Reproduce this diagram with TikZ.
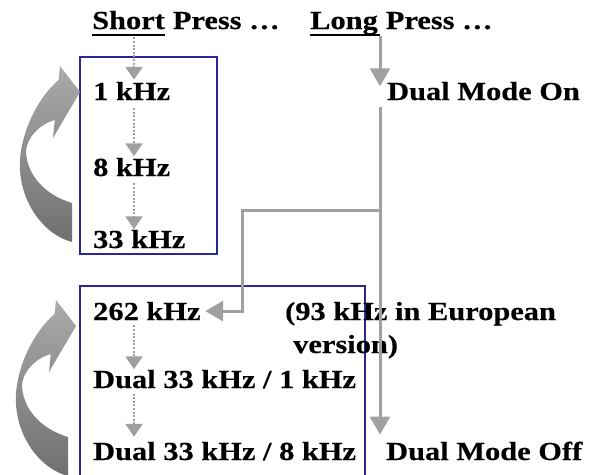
\documentclass[tikz,border=0pt]{standalone}
\usepackage{fontspec}
\setmainfont{Liberation Serif}[FakeStretch=1.17, BoldFeatures={FakeBold=0.4}]
\usetikzlibrary{arrows.meta}
\definecolor{boxblue}{RGB}{40,40,150}
\definecolor{lgray}{RGB}{160,160,160}
\definecolor{agrayA}{RGB}{170,170,170}
\definecolor{agrayM}{RGB}{140,140,140}
\definecolor{agrayB}{RGB}{112,112,112}
\tikzset{
  txt/.style={inner sep=0pt, anchor=base west, font=\fontsize{26}{30}\selectfont\bfseries},
  boxline/.style={draw=boxblue, line width=1.3pt},
  solidarrow/.style={draw=lgray, line width=3pt, -{Triangle[length=18pt,width=20pt]}},
  dotarrow/.style={draw=lgray, line width=2.4pt, dash pattern=on 2pt off 1.6pt, -{Triangle[length=13pt,width=17pt]}},
  uline/.style={draw=black, line width=2pt},
  bigarrow/.pic={
    \shade[top color=agrayA, middle color=agrayM, bottom color=agrayB]
      (80,92) -- (60,66) -- (58.6,80)
      .. controls (35,100) and (18,140) .. (20,170)
      .. controls (22,205) and (45,235) .. (72,242)
      -- (72,203)
      .. controls (45,195) and (27,175) .. (26,152)
      .. controls (26,138) and (40,124) .. (54.8,120)
      -- (53,138) -- cycle;
  }
}
\begin{document}
\begin{tikzpicture}[x=1pt,y=-1pt]
\useasboundingbox (0,0) rectangle (599,474);
% boxes
\draw[boxline] (80,57) rectangle (217,254);
\draw[boxline] (80,286) rectangle (365,480);
% curved arrows
\pic at (0,0) {bigarrow};
\pic at (-4,234) {bigarrow};
% texts
\node[txt] (short) at (92,29) {Short};
\node[txt] (press1) at ([xshift=7.6pt]short.base east) {Press …};
\node[txt] (long) at (310,29) {Long};
\node[txt] (press2) at ([xshift=7.6pt]long.base east) {Press …};
\node[txt] (k1) at (93,100) {1 kHz};
\node[txt] (k8) at (93,176) {8 kHz};
\node[txt] (k33) at (93,248) {33 kHz};
\node[txt] (k262) at (93,320) {262 kHz};
\node[txt] (d1) at (93,388) {Dual 33 kHz / 1 kHz};
\node[txt] (d8) at (93,460) {Dual 33 kHz / 8 kHz};
\node[txt] (dmon) at (387,100) {Dual Mode On};
\node[txt] (dmoff) at (386,460) {Dual Mode Off};
\node[txt] (eu1) at (285,320) {(93 kHz in European};
\node[txt] (eu2) at (293,353) {version)};
% underlines
\draw[uline] ([yshift=-6pt]short.base west) -- ([yshift=-6pt]short.base east);
\draw[uline] ([yshift=-6pt]long.base west) -- ([yshift=-6pt,xshift=2pt]long.base east);
% columns
\coordinate (col) at (134,0);
\coordinate (lx) at (380,0);
\coordinate (bend) at (242,0);
\coordinate (br) at (380,210);
% dotted short-press arrows
\draw[dotarrow, shorten <=8pt, shorten >=2pt] (col |- short.south) -- (col |- k1.north);
\draw[dotarrow, shorten <=8pt, shorten >=1.5pt] (col |- k1.south) -- (col |- k8.north);
\draw[dotarrow, shorten <=7pt, shorten >=0.5pt] (col |- k8.south) -- (col |- k33.north);
\draw[dotarrow, shorten <=5pt, shorten >=0.5pt] (col |- k262.south) -- (col |- d1.north);
\draw[dotarrow, shorten <=5pt, shorten >=5pt] (col |- d1.south) -- (col |- d8.north);
% long-press arrows
\draw[solidarrow, shorten <=7pt, shorten >=-4.5pt] (lx |- long.base) -- (lx |- dmon.north);
\draw[solidarrow, shorten <=6pt, shorten >=7pt] (lx |- dmon.south) -- (lx |- dmoff.north);
\draw[solidarrow, shorten >=4.5pt] (br) -| (bend |- k262.east) -- (k262.east);
\end{tikzpicture}
\end{document}
